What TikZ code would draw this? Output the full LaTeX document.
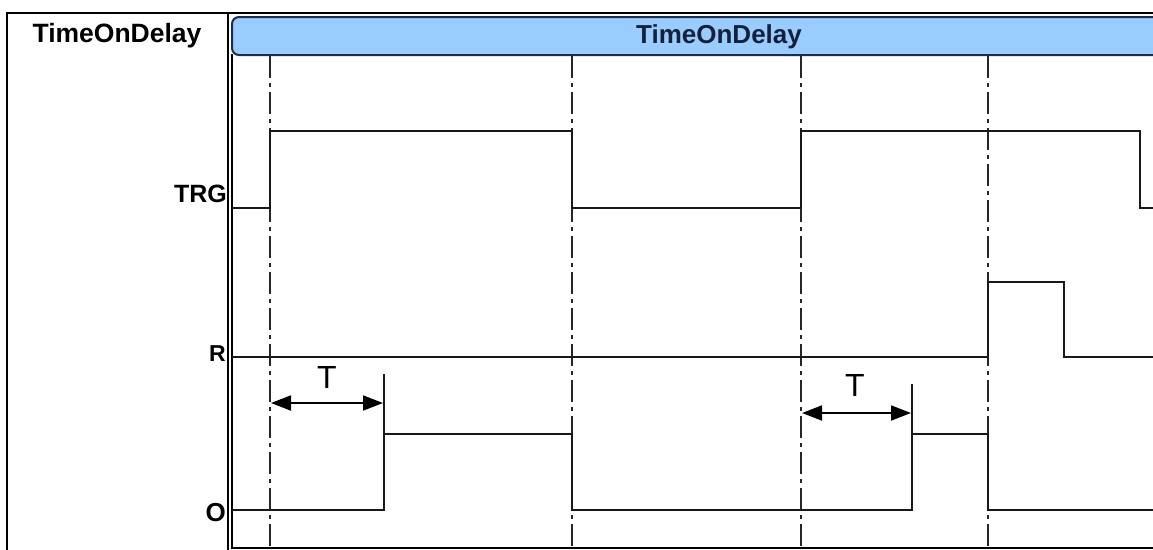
\documentclass[tikz,border=0pt]{standalone}
\usepackage{fontspec}
\setmainfont{Liberation Sans}
\usetikzlibrary{arrows.meta}
\definecolor{hdrblue}{HTML}{99CCFF}
\definecolor{hdrline}{HTML}{1F2D4A}
\definecolor{hdrtext}{HTML}{16203A}
\tikzset{
  frame/.style={line width=2pt, draw=black},
  signal/.style={line width=2pt, draw=black!90, line join=miter},
  marker/.style={line width=2pt, draw=black!90},
  guide/.style={line width=1.7pt, draw=black!85, dash pattern=on 22pt off 5pt on 4pt off 5pt},
  span/.style={line width=1.8pt, {Triangle[length=20pt,width=15pt]}-{Triangle[length=20pt,width=15pt]}},
  siglabel/.style={font=\fontsize{25}{25}\selectfont\bfseries, inner sep=0pt, anchor=base east},
  tlabel/.style={font=\fontsize{32}{32}\selectfont, inner sep=0pt},
}
\begin{document}
\begin{tikzpicture}[x=1pt,y=-1pt]
\useasboundingbox (0,0) rectangle (1153,549);
\fill[white] (0,0) rectangle (1153,549);
\begin{scope}
\clip (0,0) rectangle (1153,549);
% frame
\draw[frame] (7,560) -- (7,13) -- (1160,13);
\draw[frame] (228,13) -- (228,560);
\draw[frame] (232,54) -- (232,548) -- (1160,548);
% header
\draw[line width=2pt, draw=hdrline, fill=hdrblue, rounded corners=7pt] (232,17) rectangle (1175,55);
\node[font=\fontsize{26}{26}\selectfont\bfseries, text=hdrtext, inner sep=0pt, anchor=base] (hdr) at (719,43) {TimeOnDelay};
\node[font=\fontsize{26.5}{26.5}\selectfont\bfseries, inner sep=0pt, anchor=base] (title) at (117,42) {TimeOnDelay};
% guide lines
\coordinate (g1t) at (270,56); \coordinate (g1b) at (270,548);
\coordinate (g2t) at (572,56); \coordinate (g2b) at (572,548);
\coordinate (g3t) at (801,56); \coordinate (g3b) at (801,548);
\coordinate (g4t) at (988,56); \coordinate (g4b) at (988,548);
\draw[guide] (g1t) -- (g1b);
\draw[guide] (g2t) -- (g2b);
\draw[guide] (g3t) -- (g3b);
\draw[guide] (g4t) -- (g4b);
% labels
\node[siglabel] (trg) at (227,202) {TRG};
\node[siglabel, font=\fontsize{23}{23}\selectfont\bfseries] (r) at (226,361) {R};
\node[siglabel, font=\fontsize{26}{26}\selectfont\bfseries] (o) at (226,521) {O};
% signals
\draw[signal] (232,208) -- (270,208) -- (270,131) -- (572,131) -- (572,208) -- (801,208) -- (801,131) -- (1140,131) -- (1140,208) -- (1160,208);
\draw[signal] (232,357) -- (988,357) -- (988,282) -- (1064,282) -- (1064,357) -- (1160,357);
\draw[signal] (232,510) -- (384,510) -- (384,434) -- (572,434) -- (572,510) -- (912,510) -- (912,434) -- (988,434) -- (988,510) -- (1160,510);
% delay markers
\coordinate (m1) at (384,374); \coordinate (m1b) at (384,434);
\coordinate (m2) at (912,384); \coordinate (m2b) at (912,434);
\draw[marker] (m1) -- (m1b);
\draw[marker] (m2) -- (m2b);
\coordinate (a1s) at (271,403); \coordinate (a1e) at (383,403);
\coordinate (a2s) at (802,413); \coordinate (a2e) at (911,413);
\draw[span] (a1s) -- (a1e);
\draw[span] (a2s) -- (a2e);
\node[tlabel] (t1) at (327,377) {T};
\node[tlabel] (t2) at (855,385) {T};
\end{scope}
\end{tikzpicture}
\end{document}
